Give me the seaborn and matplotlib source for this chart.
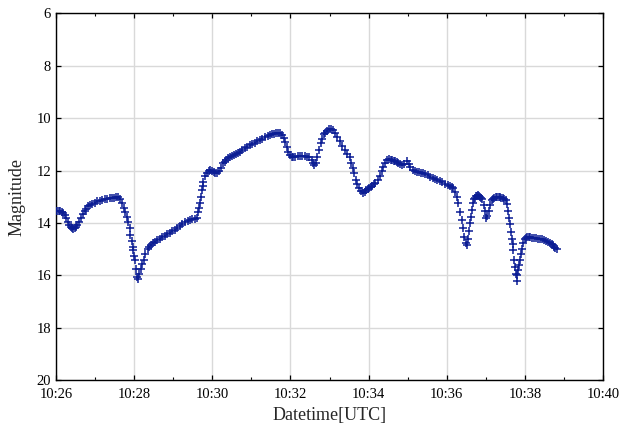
import numpy as np
import pandas as pd
import matplotlib
matplotlib.use("Agg")
import matplotlib.pyplot as plt
import matplotlib.dates as mdates
import seaborn as sns

# seconds after 10:26:00 UTC
seconds = [0, 2.3, 4.6, 6.9, 9.2, 11.5, 13.8, 16.1, 18.4, 20.7, 23, 24.8, 26.6, 28.6, 30.7, 33,
           35.3, 38.4, 41.5, 43.8, 46, 49.1, 52.2, 56, 59.9, 63.7, 67.6, 71.4, 75.3, 79.1,
           82.9, 86, 89, 92, 95.2, 98.3, 100.9, 103.7, 106, 108.6, 111, 112.9, 114.4, 116.3,
           117.8, 119, 120.2, 121.3, 122.9, 124.4, 125.6, 127.5, 129.8, 132.1, 134.4, 137.4,
           141.3, 143.6, 145.9, 149, 152, 155.8, 159.7, 163.5, 167.4, 171.2, 175.1, 178.9,
           182.7, 186.5, 190.4, 194.2, 198.1, 202, 205.8, 209.6, 213.5, 217, 218.8, 220.1,
           221.1, 222.2, 223.7, 225, 226.2, 228.8, 231.4, 234.2, 236.5, 239.6, 242.6, 244.7,
           246.8, 250.3, 253.4, 256.9, 259, 261.1, 264.6, 267.5, 270.3, 273.3, 276.4, 279.5,
           282.6, 286.4, 290.2, 294, 297.9, 301.7, 305.6, 309.4, 313.3, 317.1, 321, 324.8,
           328.6, 331.7, 334.8, 337.5, 340.2, 344, 347.1, 349.4, 351.7, 354, 356.3, 358.6,
           362, 364.5, 367, 370.9, 374.7, 378.5, 382.4, 385.5, 388.6, 392.4, 394.7, 396.2,
           398.5, 401.3, 403.9, 406.2, 408.5, 411.6, 413.6, 415.7, 419.3, 422.3, 425.4, 428.5,
           431.5, 435.4, 439.2, 443.1, 446.9, 450.8, 453.1, 455.4, 457.7, 460, 462.4, 465.4,
           468.5, 471.6, 473.9, 476.2, 478.5, 480.8, 483, 485.3, 487.6, 490, 494.6, 497.6,
           500.2, 502.7, 505.3, 507.9, 511.5, 513.8, 516.1, 518.4, 520.7, 523, 525.3, 528,
           530.6, 534.4, 538.3, 541.4, 543.6, 548.3, 551.3, 554.4, 557.4, 560.5, 563.6,
           566.7, 570.5, 574.4, 578.2, 582, 585.8, 589.7, 593.5, 597.4, 601.2, 605, 607.6,
           610.2, 612.8, 615.4, 617.8, 620.4, 623, 625, 627, 628.9, 630.4, 631.9, 633.5, 635,
           636.6, 638.4, 640, 642, 643.5, 645, 646.5, 648.1, 649.6, 651.1, 652.6, 654.2,
           656.5, 658.5, 660.3, 662.2, 664.2, 666.5, 668.8, 670.7, 672.6, 674.9, 677.2,
           679.5, 681.8, 684.1, 686.4, 688.3, 690.3, 692.6, 694.6, 696.1, 697.5, 698.7, 700,
           701.3, 702.4, 703.6, 704.9, 706.1, 707.2, 708.4, 710, 711.4, 712.6, 714.1, 715.7,
           717.6, 720.2, 721.8, 723.3, 725.6, 727.9, 731, 734, 737.1, 740.2, 743.3, 746.4,
           749.4, 752.5, 755.6, 758.6, 761, 763.3, 764.8, 766.3, 768.6]

magnitude = [13.56, 13.55, 13.56, 13.56, 13.58, 13.62, 13.7, 13.82, 13.95, 14.06, 14.15, 14.2,
             14.22, 14.2, 14.15, 14.06, 13.95, 13.8, 13.65, 13.54, 13.45, 13.37, 13.31, 13.26,
             13.22, 13.18, 13.15, 13.12, 13.1, 13.08, 13.06, 13.04, 13.03, 13.01, 13.0, 13.1,
             13.25, 13.42, 13.57, 13.78, 13.95, 14.2, 14.45, 14.7, 14.9, 15.03, 15.25, 15.42,
             15.75, 16.05, 16.15, 15.95, 15.75, 15.55, 15.4, 15.2, 14.98, 14.91, 14.85, 14.78,
             14.72, 14.66, 14.6, 14.55, 14.5, 14.44, 14.37, 14.31, 14.25, 14.18, 14.12, 14.05,
             13.98, 13.92, 13.87, 13.85, 13.84, 13.8, 13.6, 13.44, 13.25, 13.02, 12.74, 12.58,
             12.42, 12.2, 12.1, 12.02, 11.98, 12.0, 12.06, 12.08, 12.08, 12.02, 11.9, 11.72,
             11.66, 11.6, 11.53, 11.48, 11.43, 11.39, 11.35, 11.31, 11.28, 11.21, 11.15, 11.09,
             11.03, 10.98, 10.93, 10.88, 10.83, 10.78, 10.73, 10.69, 10.65, 10.62, 10.59, 10.57,
             10.56, 10.58, 10.65, 10.75, 10.92, 11.1, 11.3, 11.42, 11.47, 11.48, 11.47, 11.46,
             11.45, 11.45, 11.46, 11.48, 11.5, 11.6, 11.72, 11.8, 11.72, 11.5, 11.2, 10.95, 10.8,
             10.62, 10.56, 10.5, 10.42, 10.4, 10.45, 10.57, 10.72, 10.88, 11.05, 11.22, 11.35,
             11.5, 11.7, 11.9, 12.1, 12.35, 12.53, 12.68, 12.78, 12.84, 12.8, 12.76, 12.71,
             12.66, 12.62, 12.57, 12.53, 12.48, 12.37, 12.2, 12.0, 11.85, 11.7, 11.6, 11.57,
             11.58, 11.6, 11.62, 11.64, 11.67, 11.7, 11.75, 11.8, 11.75, 11.65, 11.75, 11.87,
             11.97, 12.0, 12.04, 12.06, 12.08, 12.11, 12.14, 12.18, 12.23, 12.27, 12.32, 12.36,
             12.4, 12.45, 12.5, 12.54, 12.58, 12.61, 12.66, 12.82, 13.02, 13.25, 13.57, 13.88,
             14.2, 14.53, 14.75, 14.84, 14.6, 14.3, 14.0, 13.76, 13.5, 13.25, 13.1, 13.03,
             12.98, 12.96, 12.95, 12.97, 13.0, 13.04, 13.1, 13.3, 13.55, 13.82, 13.75, 13.55,
             13.3, 13.13, 13.07, 13.03, 13.01, 13.0, 13.0, 13.02, 13.03, 13.05, 13.08, 13.12,
             13.28, 13.55, 13.8, 14.05, 14.33, 14.6, 14.8, 15.05, 15.4, 15.7, 15.95, 16.2, 16.0,
             15.8, 15.6, 15.42, 15.2, 15.0, 14.78, 14.62, 14.57, 14.55, 14.55, 14.55, 14.57,
             14.58, 14.59, 14.6, 14.62, 14.63, 14.65, 14.68, 14.72, 14.76, 14.8, 14.85, 14.9,
             14.95, 15.0]

start_time = "2021-01-01 10:26:00"
x_limits = ["2021-01-01 10:26:00", "2021-01-01 10:40:00"]
y_limits = [20, 6]

t0 = pd.Timestamp(start_time)
df = pd.DataFrame({
    "Datetime": t0 + pd.to_timedelta(seconds, unit="s"),
    "Magnitude": magnitude,
})

sns.set_style("white")
plt.rcParams["font.family"] = ["Liberation Serif", "DejaVu Serif"]

fig = plt.figure(figsize=(6.22, 4.28), dpi=100)
ax = fig.add_axes([0.09, 0.112, 0.8795, 0.8565])

sns.scatterplot(data=df, x="Datetime", y="Magnitude", marker="+", s=30,
                color="#0b1d94", linewidth=1.1, alpha=1.0, ax=ax, zorder=3)

ax.set_xlim(pd.Timestamp(x_limits[0]), pd.Timestamp(x_limits[1]))
ax.set_ylim(*y_limits)
ax.set_yticks(np.arange(6, 21, 2))
ax.xaxis.set_major_locator(mdates.MinuteLocator(byminute=range(0, 60, 2)))
ax.xaxis.set_minor_locator(mdates.MinuteLocator(byminute=range(1, 60, 2)))
ax.xaxis.set_major_formatter(mdates.DateFormatter("%H:%M"))

ax.grid(True, which="major", color="#d9d9d9", linewidth=1.0, zorder=0)
ax.set_axisbelow(True)
for sp in ax.spines.values():
    sp.set_visible(True)
    sp.set_color("black")
    sp.set_linewidth(1.0)

ax.tick_params(which="both", direction="in", top=True, right=True,
               bottom=True, left=True, colors="black", labelsize=10.5)
ax.tick_params(which="major", length=3.5, width=0.9)
ax.tick_params(which="minor", length=2.5, width=0.8)
ax.tick_params(axis="x", pad=6)

ax.set_xlabel("Datetime[UTC]", fontsize=13, labelpad=4)
ax.set_ylabel("Magnitude", fontsize=13, labelpad=8)

fig.savefig("out.png", dpi=100)
